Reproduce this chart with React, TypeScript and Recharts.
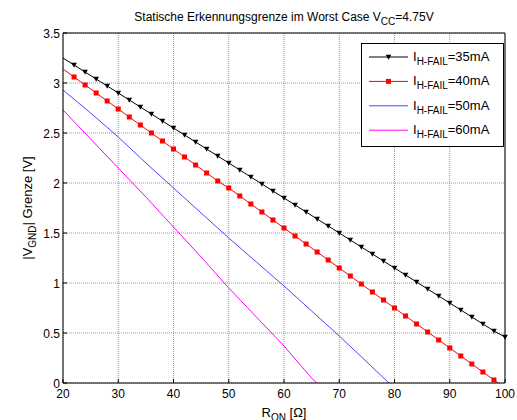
import React from 'react';
import { LineChart, Line, XAxis, YAxis, CartesianGrid, Legend } from 'recharts';

// R_ON in Ohm, tick positions
const xTicks = [20, 30, 40, 50, 60, 70, 80, 90, 100];
const yTicks = [0, 0.5, 1, 1.5, 2, 2.5, 3, 3.5];

// 35 mA and 40 mA curves, sampled every 2 Ohm (markers)
const r35 = [20, 22, 24, 26, 28, 30, 32, 34, 36, 38, 40, 42, 44, 46, 48, 50, 52, 54, 56, 58, 60,
  62, 64, 66, 68, 70, 72, 74, 76, 78, 80, 82, 84, 86, 88, 90, 92, 94, 96, 98, 100];
const v35 = [3.25, 3.18, 3.11, 3.04, 2.97, 2.9, 2.83, 2.76, 2.69, 2.62, 2.55, 2.48, 2.41, 2.34, 2.27,
  2.2, 2.13, 2.06, 1.99, 1.92, 1.85, 1.78, 1.71, 1.64, 1.57, 1.5, 1.43, 1.36, 1.29, 1.22, 1.15,
  1.08, 1.01, 0.94, 0.87, 0.8, 0.73, 0.66, 0.59, 0.52, 0.46];

const r40 = [20, 22, 24, 26, 28, 30, 32, 34, 36, 38, 40, 42, 44, 46, 48, 50, 52, 54, 56, 58, 60,
  62, 64, 66, 68, 70, 72, 74, 76, 78, 80, 82, 84, 86, 88, 90, 92, 94, 96, 98, 98.8];
const v40 = [3.14, 3.06, 2.98, 2.9, 2.82, 2.74, 2.66, 2.58, 2.5, 2.42, 2.34, 2.26, 2.18, 2.1, 2.02,
  1.95, 1.87, 1.79, 1.71, 1.63, 1.55, 1.47, 1.39, 1.31, 1.23, 1.15, 1.07, 0.99, 0.91, 0.83, 0.75,
  0.67, 0.59, 0.51, 0.43, 0.35, 0.27, 0.19, 0.11, 0.03, 0];

// 50 mA and 60 mA curves (no markers)
const r50 = [20, 25, 30, 35, 40, 45, 50, 55, 60, 65, 70, 75, 79];
const v50 = [2.93, 2.7, 2.46, 2.2, 1.95, 1.7, 1.45, 1.21, 0.97, 0.72, 0.47, 0.21, 0];

const r60 = [20, 25, 30, 35, 40, 45, 50, 55, 60, 65, 65.9];
const v60 = [2.73, 2.44, 2.15, 1.86, 1.56, 1.26, 0.95, 0.66, 0.37, 0.05, 0];

const legendLabels = ['=35mA', '=40mA', '=50mA', '=60mA'];
const colors = ['#000000', '#ff0000', '#4848ff', '#ff00ff'];

const toRows = (rs: number[], vs: number[]) => rs.map((r, i) => ({ r, v: vs[i] }));
const data35 = toRows(r35, v35);
const data40 = toRows(r40, v40);
const data50 = toRows(r50, v50);
const data60 = toRows(r60, v60);

const FONT = '"Liberation Sans", Arial, sans-serif';

const hasMarker = (r: number) => r > 20 && r % 2 === 0;

const TriDot = (props: any) => {
  const { cx, cy, payload, index } = props;
  if (!hasMarker(payload.r)) return <g key={`t${index}`} />;
  return (
    <path key={`t${index}`} d={`M${cx - 2.8},${cy - 2.2}L${cx + 2.8},${cy - 2.2}L${cx},${cy + 2.8}Z`} fill="#000" />
  );
};

const SqDot = (props: any) => {
  const { cx, cy, payload, index } = props;
  if (!hasMarker(payload.r)) return <g key={`s${index}`} />;
  return <rect key={`s${index}`} x={cx - 2.5} y={cy - 2.5} width={5} height={5} fill="#ff0000" />;
};

const BottomTick = ({ x, y, payload }: any) => (
  <g>
    <line x1={x} x2={x} y1={y} y2={y - 4} stroke="#000" />
    <text x={x} y={y + 15} textAnchor="middle" fontSize={12} fill="#000" fontFamily={FONT}>
      {payload.value}
    </text>
  </g>
);

const LeftTick = ({ x, y, payload }: any) => (
  <g>
    <line x1={x} x2={x + 4} y1={y} y2={y} stroke="#000" />
    <text x={x - 3} y={y + 4.5} textAnchor="end" fontSize={12} fill="#000" fontFamily={FONT}>
      {payload.value}
    </text>
  </g>
);

const TopTick = ({ x, y }: any) => <line x1={x} x2={x} y1={y} y2={y + 4} stroke="#000" />;
const RightTick = ({ x, y }: any) => <line x1={x} x2={x - 4} y1={y} y2={y} stroke="#000" />;

const TitleLabel = ({ viewBox }: any) => (
  <text x={viewBox.x + viewBox.width / 2} y={viewBox.y + viewBox.height - 12.5} textAnchor="middle" fontSize={12} fill="#000" fontFamily={FONT}>
    <tspan>Statische Erkennungsgrenze im Worst Case V</tspan>
    <tspan fontSize={10} dy={4}>CC</tspan>
    <tspan dy={-4}>=4.75V</tspan>
  </text>
);

const XLabel = ({ viewBox }: any) => (
  <text x={viewBox.x + viewBox.width / 2} y={viewBox.y + 33.5} textAnchor="middle" fontSize={13} fill="#000" fontFamily={FONT}>
    <tspan>R</tspan>
    <tspan fontSize={10} dy={4}>ON</tspan>
    <tspan dy={-4}> [Ω]</tspan>
  </text>
);

const YLabel = ({ viewBox }: any) => {
  const cx = viewBox.x + 32;
  const cy = viewBox.y + viewBox.height / 2;
  return (
    <text x={cx} y={cy} transform={`rotate(-90 ${cx} ${cy})`} textAnchor="middle" fontSize={13} fill="#000" fontFamily={FONT}>
      <tspan>|V</tspan>
      <tspan fontSize={10} dy={4}>GND</tspan>
      <tspan dy={-4}>| Grenze [V]</tspan>
    </text>
  );
};

const LegendBox = () => (
  <svg width={143} height={104} style={{ display: 'block' }}>
    <rect x={0.5} y={0.5} width={142} height={103} fill="#fff" stroke="#000" />
    {legendLabels.map((label, i) => {
      const cy = 14 + i * 24.4;
      return (
        <g key={label}>
          <line x1={8} x2={47} y1={cy} y2={cy} stroke={colors[i]} />
          {i === 0 && <path d={`M${24.7},${cy - 2.2}L${30.3},${cy - 2.2}L${27.5},${cy + 2.8}Z`} fill="#000" />}
          {i === 1 && <rect x={25} y={cy - 2.5} width={5} height={5} fill="#ff0000" />}
          <text x={52} y={cy + 4} fontSize={13} fill="#000" fontFamily={FONT}>
            <tspan>I</tspan>
            <tspan fontSize={10} dy={4}>H-FAIL</tspan>
            <tspan dy={-4}>{label}</tspan>
          </text>
        </g>
      );
    })}
  </svg>
);

export default function App() {
  return (
    <div style={{ position: 'absolute', left: 0, top: 0, background: '#fff' }}>
      <LineChart width={517} height={420} margin={{ top: 3, right: 11, bottom: 0, left: 0 }} style={{ fontFamily: FONT }}>
        <CartesianGrid stroke="#9a9a9a" strokeDasharray="1 1" />
        <XAxis
          dataKey="r"
          type="number"
          domain={[20, 100]}
          ticks={xTicks}
          height={37}
          tickSize={0}
          tickMargin={0}
          tickLine={false}
          axisLine={{ stroke: '#000' }}
          tick={<BottomTick />}
          interval={0}
          label={<XLabel />}
        />
        <XAxis
          xAxisId="top"
          orientation="top"
          dataKey="r"
          type="number"
          domain={[20, 100]}
          ticks={xTicks}
          height={30}
          tickSize={0}
          tickMargin={0}
          tickLine={false}
          axisLine={{ stroke: '#000' }}
          tick={<TopTick />}
          interval={0}
          label={<TitleLabel />}
        />
        <YAxis
          type="number"
          domain={[0, 3.5]}
          ticks={yTicks}
          width={63}
          tickSize={0}
          tickMargin={0}
          tickLine={false}
          axisLine={{ stroke: '#000' }}
          tick={<LeftTick />}
          interval={0}
          label={<YLabel />}
        />
        <YAxis
          yAxisId="right"
          orientation="right"
          type="number"
          domain={[0, 3.5]}
          ticks={yTicks}
          width={1}
          tickSize={0}
          tickMargin={0}
          tickLine={false}
          axisLine={{ stroke: '#000' }}
          tick={<RightTick />}
          interval={0}
        />
        <Legend
          layout="vertical"
          align="center"
          verticalAlign="middle"
          content={<LegendBox />}
          wrapperStyle={{ left: 361, top: 43, width: 143, height: 104 }}
        />
        <Line data={data60} dataKey="v" stroke={colors[3]} strokeWidth={1} dot={false} isAnimationActive={false} />
        <Line data={data50} dataKey="v" stroke={colors[2]} strokeWidth={1} dot={false} isAnimationActive={false} />
        <Line data={data40} dataKey="v" stroke={colors[1]} strokeWidth={1} dot={SqDot} isAnimationActive={false} />
        <Line data={data35} dataKey="v" stroke={colors[0]} strokeWidth={1} dot={TriDot} isAnimationActive={false} />
      </LineChart>
    </div>
  );
}
